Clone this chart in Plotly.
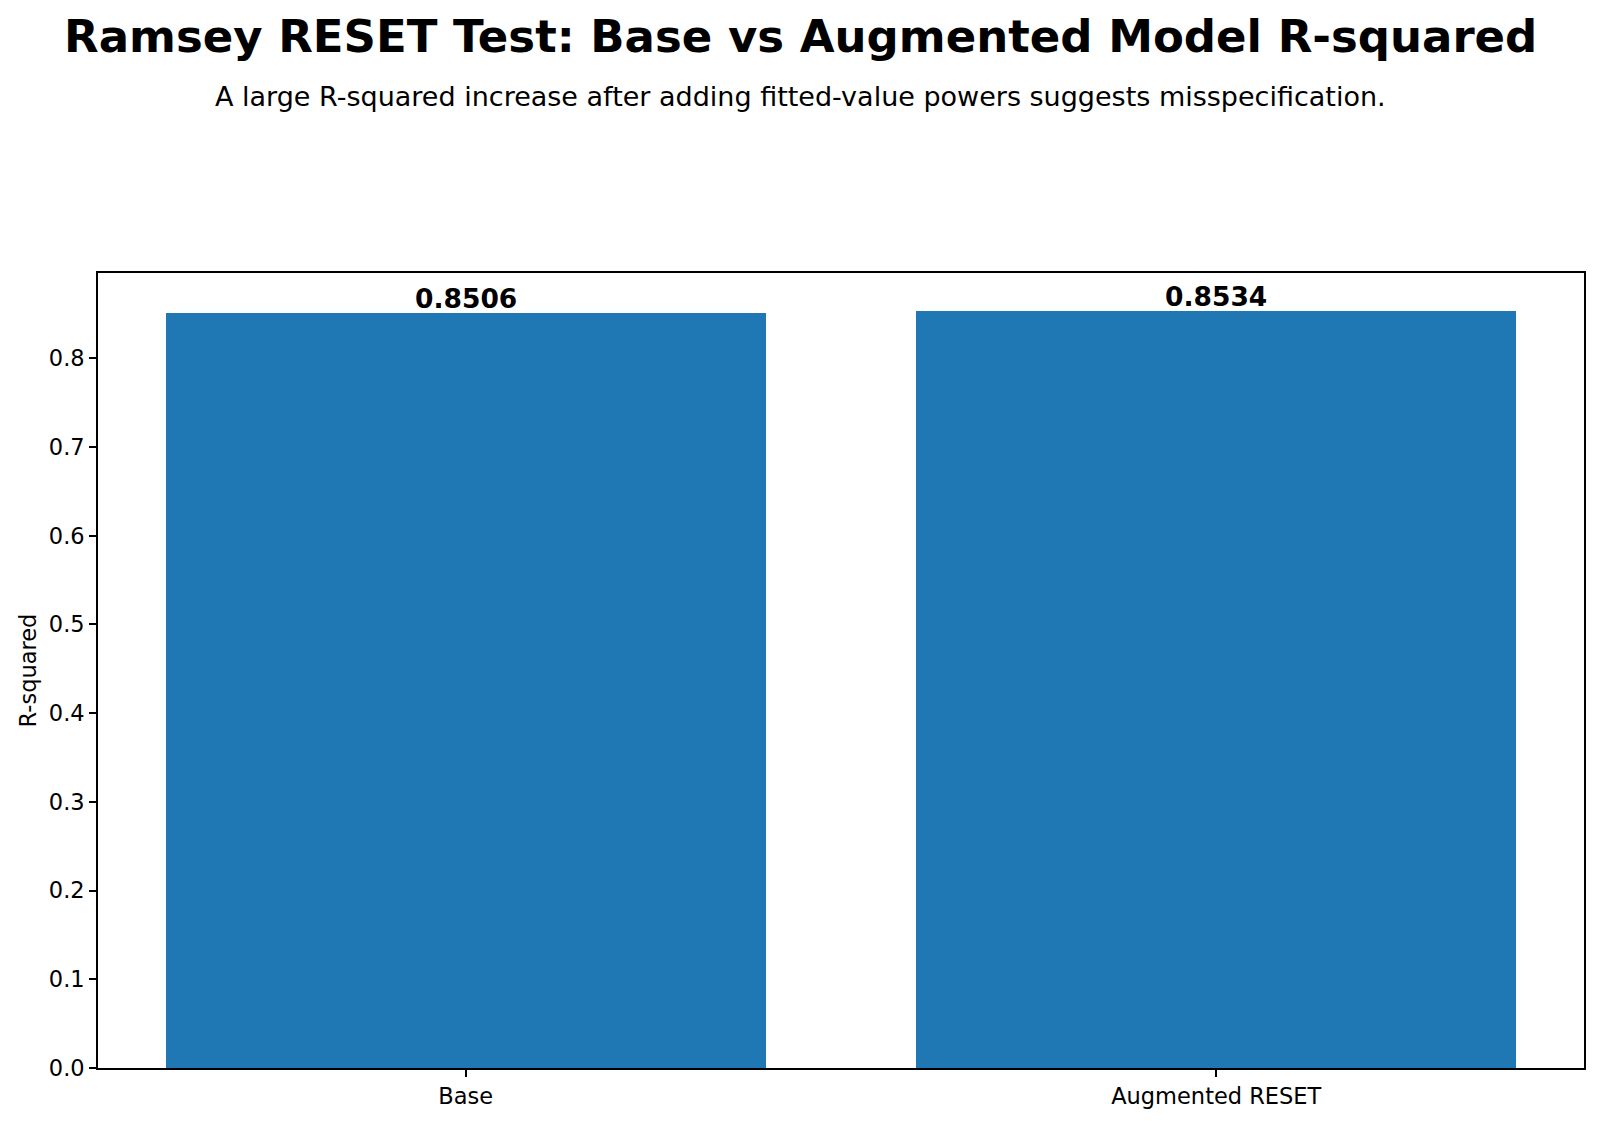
import plotly.graph_objects as go

categories = ["Base", "Augmented RESET"]
r_squared = [0.8506, 0.8534]
label_text = ["0.8506", "0.8534"]
y_ticks = [0.0, 0.1, 0.2, 0.3, 0.4, 0.5, 0.6, 0.7, 0.8]

title_text = "Ramsey RESET Test: Base vs Augmented Model R-squared"
subtitle_text = "A large R-squared increase after adding fitted-value powers suggests misspecification."

FONT = "DejaVu Sans"
W, H = 1600, 1121
L, R, T, B = 98, 16, 273, 53
TICK = 22.5

fig = go.Figure()
fig.add_trace(go.Bar(
    x=list(range(len(categories))),
    y=r_squared,
    width=0.8,
    marker=dict(color="#1f77b4", line=dict(width=0)),
    showlegend=False,
    hoverinfo="skip",
))

for i, (v, t) in enumerate(zip(r_squared, label_text)):
    fig.add_annotation(
        x=i, y=v, text="<b>" + t + "</b>", showarrow=False,
        xref="x", yref="y", yanchor="bottom", xanchor="center",
        yshift=-3,
        font=dict(family=FONT, size=26.5, color="black"),
    )

ph = H - T - B
pw = W - L - R


def to_paper(px_x, px_y):
    return (px_x - L) / pw, (H - B - px_y) / ph


tx, ty = to_paper(W / 2, 36)
fig.add_annotation(
    x=tx, y=ty, xref="paper", yref="paper",
    text="<b>" + title_text + "</b>", showarrow=False,
    xanchor="center", yanchor="middle",
    font=dict(family=FONT, size=45, color="black"),
)
sx, sy = to_paper(W / 2, 96)
fig.add_annotation(
    x=sx, y=sy, xref="paper", yref="paper",
    text=subtitle_text, showarrow=False,
    xanchor="center", yanchor="middle",
    font=dict(family=FONT, size=27, color="black"),
)

fig.update_layout(
    width=W, height=H,
    margin=dict(l=L, r=R, t=T, b=B, pad=0),
    paper_bgcolor="white", plot_bgcolor="white",
    font=dict(family=FONT, size=TICK, color="black"),
    bargap=0,
    xaxis=dict(
        range=[-0.49, 1.49],
        tickmode="array", tickvals=list(range(len(categories))), ticktext=categories,
        showgrid=False, zeroline=False,
        showline=True, linecolor="black", linewidth=1.67, mirror=True,
        ticks="outside", ticklen=7, tickwidth=1.67, tickcolor="black",
        tickfont=dict(family=FONT, size=TICK, color="black"),
    ),
    yaxis=dict(
        range=[0, 0.896],
        tickmode="array", tickvals=y_ticks, ticktext=[f"{v:.1f}" for v in y_ticks],
        showgrid=False, zeroline=False,
        showline=True, linecolor="black", linewidth=1.67, mirror=True,
        ticks="outside", ticklen=7, tickwidth=1.67, tickcolor="black",
        tickfont=dict(family=FONT, size=TICK, color="black"),
        title=dict(text="R-squared", font=dict(family=FONT, size=TICK, color="black"), standoff=6),
    ),
)

fig.write_html("out.html")
